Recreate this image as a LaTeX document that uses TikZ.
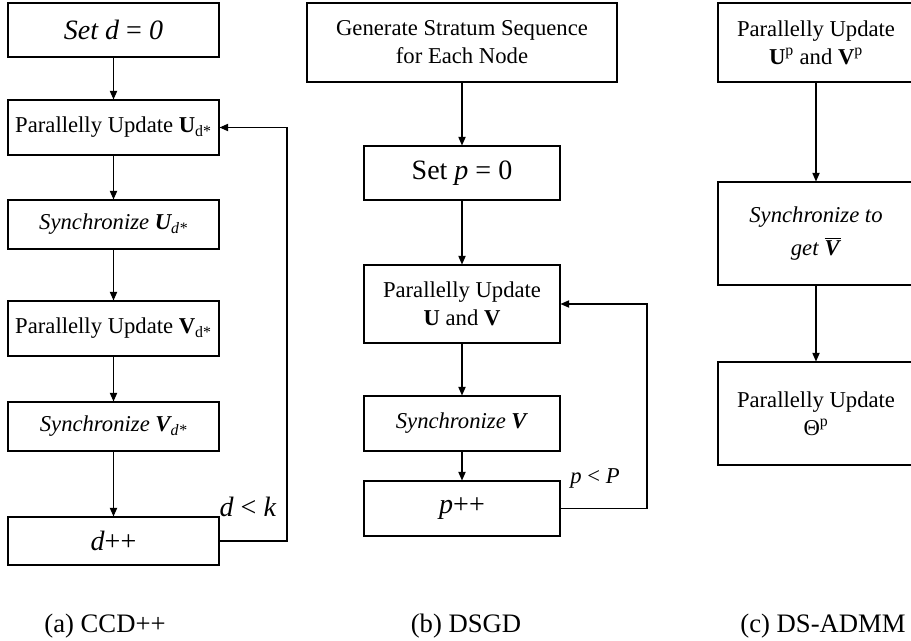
\documentclass[tikz,border=0pt]{standalone}
\usepackage{fontspec}
\setmainfont{Liberation Serif}
\usetikzlibrary{arrows.meta,shadows}

\newcommand\boxfont{\fontsize{17}{21}\selectfont}
\newcommand\bigfont{\fontsize{21}{24}\selectfont}
\newcommand\capfont{\fontsize{20}{23}\selectfont}
\newcommand\barV{\leavevmode\vbox{\hrule height 0.9pt\kern1.2pt\hbox{\bfseries\itshape V\kern1pt}}}

\begin{document}
\begin{tikzpicture}[x=0.75pt,y=-0.75pt,
  stepbox/.style={draw, line width=0.8pt, fill=white, align=center, inner sep=0pt,
    font=\boxfont,
    drop shadow={shadow xshift=0.8pt, shadow yshift=-0.8pt, fill=blue!30!black!25, opacity=0.4}},
  flow/.style={-{Triangle[length=6.5pt,width=5.5pt]}, line width=0.8pt}]
  \useasboundingbox (0,0) rectangle (911,641);

  % (a) CCD++
  \node[stepbox, minimum width=158.25pt, minimum height=40.5pt, font=\bigfont] (setd) at (113.5,30) {\textit{Set d} = \textit{0}};
  \node[stepbox, minimum width=158.25pt, minimum height=41.25pt] (updU) at (113.5,127.5) {Parallelly Update \textbf{U}\textsubscript{d*}};
  \node[stepbox, minimum width=158.25pt, minimum height=36.75pt] (syncU) at (113.5,224.5) {\textit{Synchronize \textbf{U}\textsubscript{d*}}};
  \node[stepbox, minimum width=158.25pt, minimum height=41.25pt] (updV) at (113.5,328.5) {Parallelly Update \textbf{V}\textsubscript{d*}};
  \node[stepbox, minimum width=158.25pt, minimum height=36.75pt] (syncV) at (113.5,426.5) {\textit{Synchronize \textbf{V}\textsubscript{d*}}};
  \node[stepbox, minimum width=158.25pt, minimum height=36pt, font=\bigfont] (dinc) at (113.5,541) {\textit{d}++};
  \coordinate (loopa) at (287,541);

  \draw[flow] (setd) -- (updU);
  \draw[flow] (updU) -- (syncU);
  \draw[flow] (syncU) -- (updV);
  \draw[flow] (updV) -- (syncV);
  \draw[flow] (syncV) -- (dinc);
  \draw[flow] (dinc.east) -- (loopa) |- (updU.east);
  \node[font=\bigfont] (condd) at (248,507) {\textit{d} < \textit{k}};

  % (b) DSGD
  \node[stepbox, minimum width=232.5pt, minimum height=59.25pt] (gen) at (462,42.5) {Generate Stratum Sequence\\for Each Node};
  \node[stepbox, minimum width=147pt, minimum height=40.5pt, font=\bigfont] (setp) at (462,173) {Set \textit{p} = 0};
  \node[stepbox, minimum width=147pt, minimum height=58.5pt] (updUV) at (462,304) {Parallelly Update\\\textbf{U} and \textbf{V}};
  \node[stepbox, minimum width=147pt, minimum height=41.25pt] (syncVb) at (462,423.5) {\textit{Synchronize \textbf{V}}};
  \node[stepbox, minimum width=147pt, minimum height=41.25pt, font=\bigfont] (pinc) at (462,508.5) {\textit{p}++};
  \coordinate (loopb) at (647,508.5);

  \draw[flow] (gen) -- (setp);
  \draw[flow] (setp) -- (updUV);
  \draw[flow] (updUV) -- (syncVb);
  \draw[flow] (syncVb) -- (pinc);
  \draw[flow] (pinc.east) -- (loopb) |- (updUV.east);
  \node[font=\boxfont] (condp) at (595,478) {\textit{p} < \textit{P}};

  % (c) DS-ADMM
  \node[stepbox, minimum width=147pt, minimum height=59.25pt] (updUVp) at (816,42.5) {Parallelly Update\\\textbf{U}\textsuperscript{p} and \textbf{V}\textsuperscript{p}};
  \node[stepbox, minimum width=147pt, minimum height=77.25pt] (syncbar) at (816,233.5) {\textit{Synchronize to}\\[4pt]\textit{get} \barV};
  \node[stepbox, minimum width=147pt, minimum height=77.25pt] (updT) at (816,413.5) {Parallelly Update\\Θ\textsuperscript{p}};

  \draw[flow] (updUVp) -- (syncbar);
  \draw[flow] (syncbar) -- (updT);

  % captions
  \node[font=\capfont] (capa) at (105,626) {(a) CCD++};
  \node[font=\capfont] (capb) at (466,626) {(b) DSGD};
  \node[font=\capfont] (capc) at (823,626) {(c) DS-ADMM};
\end{tikzpicture}
\end{document}
